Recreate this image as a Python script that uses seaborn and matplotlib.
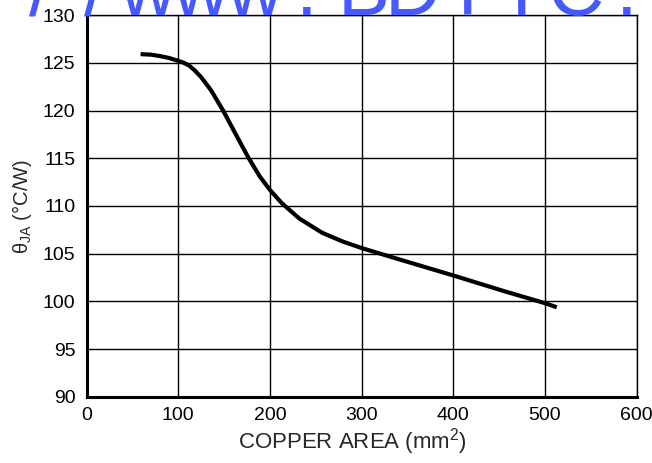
import matplotlib
matplotlib.use("Agg")
import matplotlib.pyplot as plt
import seaborn as sns
import pandas as pd

copper_area = [59, 70, 80, 90, 100, 106, 112, 118, 125, 136, 149, 164, 177, 189, 200, 213, 232, 257, 279, 300, 345, 401, 455, 501, 513]
theta_ja = [125.9, 125.85, 125.7, 125.5, 125.2, 125.0, 124.7, 124.2, 123.5, 122.1, 120.0, 117.3, 115.0, 113.1, 111.7, 110.3, 108.7, 107.2, 106.3, 105.6, 104.3, 102.7, 101.1, 99.8, 99.4]
x_ticks = [0, 100, 200, 300, 400, 500, 600]
y_ticks = [90, 95, 100, 105, 110, 115, 120, 125, 130]

sns.set_style("white")
plt.rcParams['font.family'] = ['Liberation Sans', 'DejaVu Sans']
plt.rcParams['mathtext.fontset'] = 'custom'
plt.rcParams['mathtext.rm'] = 'Liberation Sans'
plt.rcParams['mathtext.it'] = 'Liberation Sans:italic'
plt.rcParams['mathtext.default'] = 'regular'

fig = plt.figure(figsize=(6.52, 4.63), dpi=100)
W, H = 652, 463
left, right, top, bottom = 86.5, 636.5, 15, 397
ax = fig.add_axes([left / W, 1 - bottom / H, (right - left) / W, (bottom - top) / H])

df = pd.DataFrame({"area": copper_area, "theta": theta_ja})
sns.lineplot(data=df, x="area", y="theta", ax=ax, color="black", linewidth=3.0, sort=False)
for ln in ax.get_lines():
    ln.set_solid_joinstyle("round")
    ln.set_solid_capstyle("butt")

ax.set_xlim(0, 600)
ax.set_ylim(90, 130)
ax.set_xticks(x_ticks)
ax.set_yticks(y_ticks)
ax.grid(True, color="black", linewidth=1.0)
ax.set_axisbelow(True)
for s in ["top", "right"]:
    ax.spines[s].set_linewidth(1.0)
    ax.spines[s].set_color("black")
for s in ["left", "bottom"]:
    ax.spines[s].set_linewidth(2.2)
    ax.spines[s].set_color("black")
ax.tick_params(axis="both", length=0, labelsize=14, colors="black")
ax.tick_params(axis="y", pad=8)
ax.tick_params(axis="x", pad=7.5)
ax.set_xlabel("COPPER AREA (mm$^{2}$)", fontsize=16)
ax.set_ylabel(r"$\theta_{JA}$ (°C/W)", fontsize=14.5)
ax.xaxis.set_label_coords((352 - left) / (right - left), (bottom - 426) / (bottom - top))
ax.yaxis.set_label_coords((34 - left) / (right - left), 0.5)

# watermark characters (centres at baseline, pixels)
wm_color = "#4658ff"
wm_chars = ["/", "/", "w", "w", "w", ".", "B", "D", "T", "I", "C", "."]
wm_x = [40, 95, 147, 200, 254, 307, 364, 413, 467, 522, 576, 627]
for ch, xc in zip(wm_chars, wm_x):
    fig.text(xc / W, 1 - 15 / H, ch, fontsize=56, color=wm_color,
             ha="center", va="baseline", zorder=10)

fig.savefig("out.png", dpi=100)
